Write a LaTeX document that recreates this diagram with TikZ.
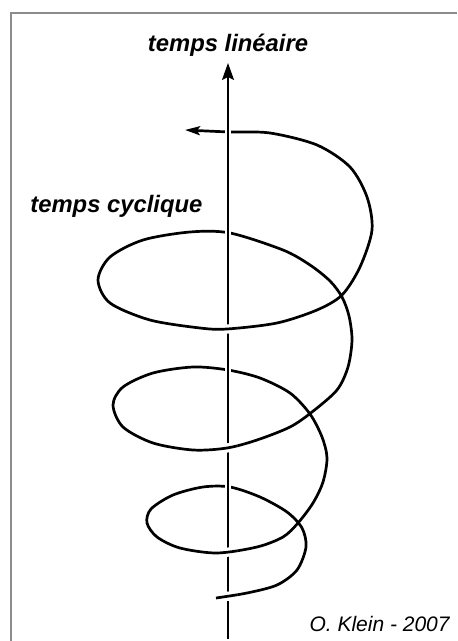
\documentclass[tikz,border=0pt]{standalone}
\usepackage{fontspec}
\setmainfont{Liberation Sans}
\usetikzlibrary{arrows.meta}

\begin{document}
\begin{tikzpicture}[x=0.5pt, y=-0.5pt,
      cadre/.style={draw=black!45, line width=1pt},
      axe/.style={line width=1pt},
      spire/.style={line width=1.35pt},
      halo/.style={draw=white, line width=#1},
      titre/.style={inner sep=0pt, font=\fontsize{11.9}{14}\selectfont\bfseries\itshape},
      credit/.style={inner sep=0pt, font=\fontsize{10.5}{12}\selectfont\itshape},
      spirale/.style={insert path={plot[smooth] coordinates {
        (216,598) (247,593) (277,585) (297,570) (306,547) (302,528) (287,512)
        (260,497) (230,487) (203,487) (173,495) (151,509) (147,523) (157,537)
        (180,548) (217,553) (257,547) (283,537) (298,523) (313,503) (323,482)
        (327,458) (322,437) (310,414) (290,393) (260,378) (228,370) (193,367)
        (153,373) (123,387) (113,405) (123,427) (153,443) (193,450) (227,448)
        (257,440) (290,427) (312,412) (337,390) (348,367) (352,340) (349,316)
        (342,297) (330,281) (310,265) (283,250) (230,233) (190,232) (143,240)
        (110,257) (98,280) (110,303) (150,320) (200,328) (227,329) (277,323)
        (317,310) (342,295) (360,267) (372,230) (367,197) (350,167) (317,145)
        (270,133) (230,132) (185,130)}}}]
  \useasboundingbox (0,0) rectangle (457,641);
  \draw[cadre] (11,641) -- (11,13) -- (457,13);

  \coordinate (bas) at (228,639);
  \coordinate (haut) at (228,63);

  \node[titre, anchor=base] (lineaire) at (228,52) {temps linéaire};
  \node[titre, anchor=base west] (cyclique) at (30,213) {temps cyclique};
  \node[credit, anchor=base east] (auteur) at (450,631) {O. Klein - 2007};

  \draw[spire, -{Stealth[length=7.5pt, width=4.5pt, inset=1.5pt]}, spirale];
  \draw[halo=2.6pt] (bas) -- (haut);
  \draw[axe, -{Stealth[length=8.5pt, width=6pt, inset=1.5pt]}] (bas) -- (haut);

  \foreach \yc in {596,553,448,329} {
    \begin{scope}
      \clip (219,\yc-12) rectangle (237,\yc+12);
      \draw[halo=4.6pt, spirale];
      \draw[spire, spirale];
    \end{scope}
  }
\end{tikzpicture}
\end{document}
